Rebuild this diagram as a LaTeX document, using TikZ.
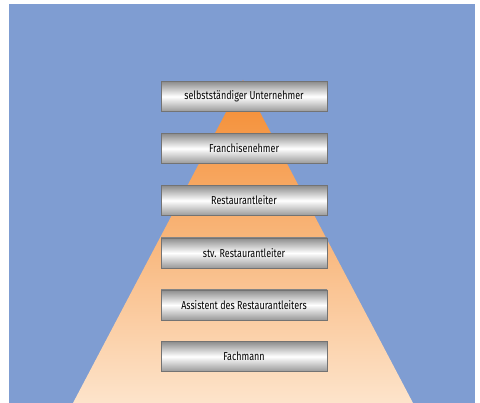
\documentclass[tikz,border=0pt]{standalone}
\usepackage{fontspec}
\setmainfont[FakeStretch=0.78]{Fira Sans}
\definecolor{skyblue}{HTML}{7F9DD2}
\definecolor{apexorange}{HTML}{F48A2E}
\definecolor{basepeach}{HTML}{FDE4CB}
\tikzset{
  rung/.style={draw=black!55, line width=0.6pt, minimum width=166pt, minimum height=30pt,
    top color=black!45, bottom color=black!40, middle color=white,
    font=\fontsize{11.5}{13}\selectfont, text=black, inner sep=0pt}
}
\begin{document}
\begin{tikzpicture}[x=1pt,y=-1pt]
\useasboundingbox (0,0) rectangle (480,403);
\fill[white] (0,0) rectangle (480,403);
\fill[skyblue] (9,4) rectangle (475,403);
\shade[top color=apexorange, bottom color=basepeach] (243,80) -- (413,403) -- (73,403) -- cycle;
\node[rung] (owner) at (244,96.5) {selbstständiger Unternehmer};
\node[rung] (franchise) at (244,148.5) {Franchisenehmer};
\node[rung] (manager) at (244,200.5) {Restaurantleiter};
\node[rung] (deputy) at (244,253) {stv. Restaurantleiter};
\node[rung] (assistant) at (244,305) {Assistent des Restaurantleiters};
\node[rung] (specialist) at (244,356.5) {Fachmann};
\end{tikzpicture}
\end{document}
